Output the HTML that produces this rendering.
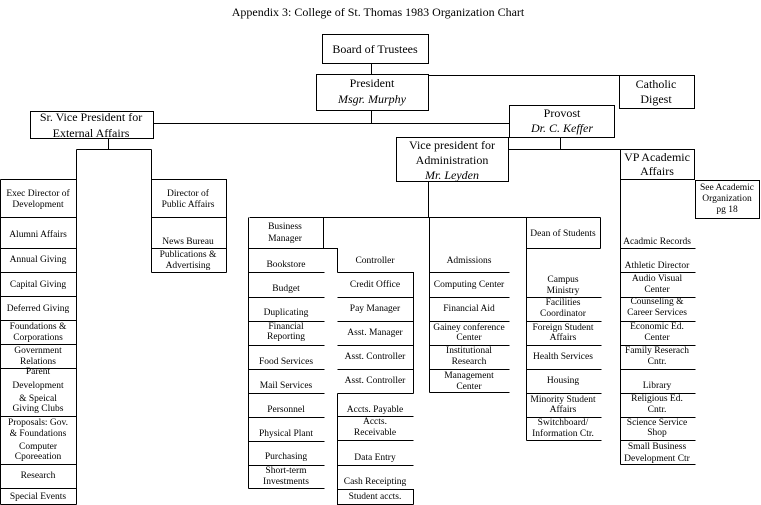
<!DOCTYPE html>
<html><head><meta charset="utf-8"><style>
html,body{margin:0;padding:0;background:#fff;}
svg{display:block;}
text{font-family:"Liberation Serif",serif;fill:#000;text-anchor:middle;dominant-baseline:central;}
.s{font-size:9.5px;}
.m{font-size:12px;}
.i{font-style:italic;}
</style></head><body>
<svg width="761" height="505" viewBox="0 0 761 505" xmlns="http://www.w3.org/2000/svg">
<g stroke="#000" stroke-width="1" fill="none" shape-rendering="crispEdges">
<rect x="322.5" y="34.5" width="106" height="29"/>
<rect x="316.5" y="74.5" width="112" height="36"/>
<rect x="619.5" y="75.5" width="75" height="33"/>
<rect x="30.5" y="111.5" width="123" height="27"/>
<rect x="509.5" y="105.5" width="105" height="32"/>
<rect x="396.5" y="137.5" width="112" height="44"/>
<rect x="620.5" y="149.5" width="74" height="30"/>
<rect x="695.5" y="180.5" width="64" height="38"/>
<path d="M371.5 63.5V74.5 M428.5 75.5H619.5 M371.5 110.5V123.5 M153.5 123.5H509.5 M560.5 137.5V149.5 M508.5 149.5H620.5 M428.5 181.5V217.5 M249.5 217.5H600.5 M108.5 138.5V149.5 M76.5 149.5H151.5 M76.5 149.5V179.5 M151.5 149.5V179.5"/>
<path d="M0.5 179.5H76.5V504.5 M0.5 179.5V504.5 M0.5 217.5H76.5 M0.5 248.5H76.5 M0.5 272.5H76.5 M0.5 296.5H76.5 M0.5 320.5H76.5 M0.5 344.5H76.5 M0.5 368.5H76.5 M0.5 416.5H76.5 M0.5 464.5H76.5 M0.5 488.5H76.5 M0.5 504.5H76.5"/>
<path d="M151.5 179.5H226.5V272.5 M151.5 179.5V272.5 M151.5 217.5H226.5 M151.5 248.5H226.5 M151.5 272.5H226.5"/>
<path d="M248.5 217.5V488.5 M323.5 217.5V248.5 M248.5 248.5H337.5V272.5 M248.5 272.5H324.5 M248.5 297.5H324.5 M248.5 321.5H324.5 M248.5 345.5H324.5 M248.5 369.5H324.5 M248.5 393.5H324.5 M248.5 417.5H324.5 M248.5 441.5H324.5 M248.5 465.5H324.5 M248.5 488.5H324.5"/>
<path d="M337.5 272.5H413.5V393.5 M337.5 297.5H413.5 M337.5 321.5H413.5 M337.5 345.5H413.5 M337.5 369.5H413.5 M337.5 393.5H413.5 M337.5 393.5V505 M337.5 416.5H413.5 M337.5 440.5H413.5 M337.5 465.5H413.5 M337.5 489.5H413.5V504.5 M337.5 504.5H413.5"/>
<path d="M429.5 217.5V392.5 M429.5 272.5H509.5 M429.5 297.5H509.5 M429.5 321.5H509.5 M429.5 345.5H509.5 M429.5 369.5H509.5 M429.5 392.5H509.5"/>
<path d="M526.5 217.5V440.5 M600.5 217.5V248.5 M526.5 248.5H600.5 M526.5 297.5H601.5 M526.5 321.5H601.5 M526.5 345.5H601.5 M526.5 369.5H601.5 M526.5 393.5H601.5 M526.5 417.5H601.5 M526.5 440.5H601.5"/>
<path d="M620.5 179.5V464.5 M620.5 248.5H695.5 M620.5 272.5H695.5 M620.5 297.5H695.5 M620.5 321.5H695.5 M620.5 345.5H695.5 M620.5 369.5H695.5 M620.5 393.5H695.5 M620.5 417.5H695.5 M620.5 440.5H695.5 M620.5 464.5H695.5"/>
</g>
<text x="378" y="12" class="m">Appendix 3:  College of St. Thomas  1983 Organization Chart</text>
<text x="375" y="49" class="m">Board of Trustees</text>
<text x="372" y="83" class="m">President</text>
<text x="372" y="99" class="m i">Msgr. Murphy</text>
<text x="656" y="84" class="m">Catholic</text>
<text x="656" y="99" class="m">Digest</text>
<text x="91" y="117" class="m">Sr. Vice President for</text>
<text x="91" y="133" class="m">External Affairs</text>
<text x="562" y="113" class="m">Provost</text>
<text x="562" y="128" class="m i">Dr. C. Keffer</text>
<text x="452" y="145" class="m">Vice president for</text>
<text x="452" y="160" class="m">Administration</text>
<text x="452" y="175" class="m i">Mr. Leyden</text>
<text x="657" y="157" class="m">VP Academic</text>
<text x="657" y="171" class="m">Affairs</text>
<text x="727" y="188" class="s">See Academic</text>
<text x="727" y="199" class="s">Organization</text>
<text x="727" y="210" class="s">pg 18</text>

<g>
<text x="38" y="194" class="s">Exec Director of</text>
<text x="38" y="205" class="s">Development</text>
<text x="38" y="235" class="s">Alumni Affairs</text>
<text x="38" y="260" class="s">Annual Giving</text>
<text x="38" y="285" class="s">Capital Giving</text>
<text x="38" y="309" class="s">Deferred Giving</text>
<text x="38" y="327" class="s">Foundations &amp;</text>
<text x="38" y="338" class="s">Corporations</text>
<text x="38" y="351" class="s">Government</text>
<text x="38" y="362" class="s">Relations</text>
<text x="38" y="372" class="s">Parent</text>
<text x="38" y="386" class="s">Development</text>
<text x="38" y="399" class="s">&amp; Speical</text>
<text x="38" y="409" class="s">Giving Clubs</text>
<text x="38" y="423" class="s">Proposals:  Gov.</text>
<text x="38" y="434" class="s">&amp; Foundations</text>
<text x="38" y="447" class="s">Computer</text>
<text x="38" y="457" class="s">Cporeeation</text>
<text x="38" y="476" class="s">Research</text>
<text x="38" y="497" class="s">Special Events</text>

<text x="188" y="194" class="s">Director of</text>
<text x="188" y="205" class="s">Public Affairs</text>
<text x="188" y="242" class="s">News Bureau</text>
<text x="188" y="255" class="s">Publications &amp;</text>
<text x="188" y="266" class="s">Advertising</text>

<text x="285" y="227" class="s">Business</text>
<text x="285" y="239" class="s">Manager</text>
<text x="286" y="265" class="s">Bookstore</text>
<text x="286" y="289" class="s">Budget</text>
<text x="286" y="313" class="s">Duplicating</text>
<text x="286" y="327" class="s">Financial</text>
<text x="286" y="337" class="s">Reporting</text>
<text x="286" y="362" class="s">Food Services</text>
<text x="286" y="386" class="s">Mail Services</text>
<text x="286" y="410" class="s">Personnel</text>
<text x="286" y="434" class="s">Physical Plant</text>
<text x="286" y="457" class="s">Purchasing</text>
<text x="286" y="471" class="s">Short-term</text>
<text x="286" y="482" class="s">Investments</text>

<text x="375" y="261" class="s">Controller</text>
<text x="375" y="285" class="s">Credit Office</text>
<text x="375" y="309" class="s">Pay Manager</text>
<text x="375" y="333" class="s">Asst. Manager</text>
<text x="375" y="357" class="s">Asst. Controller</text>
<text x="375" y="381" class="s">Asst. Controller</text>
<text x="375" y="410" class="s">Accts. Payable</text>
<text x="375" y="422" class="s">Accts.</text>
<text x="375" y="433" class="s">Receivable</text>
<text x="375" y="458" class="s">Data Entry</text>
<text x="375" y="482" class="s">Cash Receipting</text>
<text x="375" y="497" class="s">Student accts.</text>

<text x="469" y="261" class="s">Admissions</text>
<text x="469" y="285" class="s">Computing Center</text>
<text x="469" y="309" class="s">Financial Aid</text>
<text x="469" y="328" class="s">Gainey conference</text>
<text x="469" y="338" class="s">Center</text>
<text x="469" y="351" class="s">Institutional</text>
<text x="469" y="362" class="s">Research</text>
<text x="469" y="376" class="s">Management</text>
<text x="469" y="387" class="s">Center</text>

<text x="563" y="234" class="s">Dean of Students</text>
<text x="563" y="280" class="s">Campus</text>
<text x="563" y="291" class="s">Ministry</text>
<text x="563" y="303" class="s">Facilities</text>
<text x="563" y="314" class="s">Coordinator</text>
<text x="563" y="328" class="s">Foreign Student</text>
<text x="563" y="338" class="s">Affairs</text>
<text x="563" y="357" class="s">Health Services</text>
<text x="563" y="381" class="s">Housing</text>
<text x="563" y="400" class="s">Minority Student</text>
<text x="563" y="410" class="s">Affairs</text>
<text x="563" y="423" class="s">Switchboard/</text>
<text x="563" y="434" class="s">Information Ctr.</text>

<text x="657" y="242" class="s">Acadmic Records</text>
<text x="657" y="266" class="s">Athletic Director</text>
<text x="657" y="279" class="s">Audio Visual</text>
<text x="657" y="290" class="s">Center</text>
<text x="657" y="302" class="s">Counseling &amp;</text>
<text x="657" y="313" class="s">Career Services</text>
<text x="657" y="327" class="s">Economic Ed.</text>
<text x="657" y="338" class="s">Center</text>
<text x="657" y="351" class="s">Family Reserach</text>
<text x="657" y="362" class="s">Cntr.</text>
<text x="657" y="386" class="s">Library</text>
<text x="657" y="399" class="s">Religious Ed.</text>
<text x="657" y="410" class="s">Cntr.</text>
<text x="657" y="423" class="s">Science Service</text>
<text x="657" y="433" class="s">Shop</text>
<text x="657" y="447" class="s">Small Business</text>
<text x="657" y="459" class="s">Development Ctr</text>
</g>
</svg>
</body></html>
